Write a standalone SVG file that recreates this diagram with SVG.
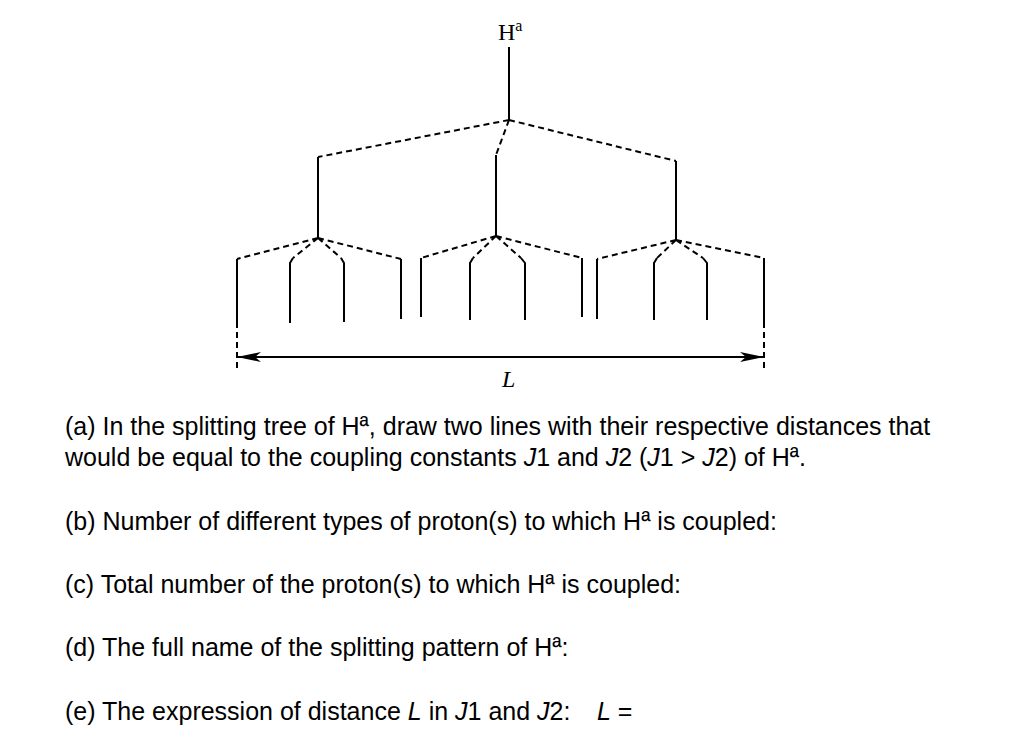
<svg xmlns="http://www.w3.org/2000/svg" width="1024" height="756" viewBox="0 0 1024 756">
<style>
.s{stroke:#000;stroke-width:2;fill:none}
.d{stroke:#000;stroke-width:2;fill:none;stroke-dasharray:6,4}
.t{font-family:"Liberation Sans",Arial,sans-serif;font-size:25px;fill:#000}
.r{font-family:"Liberation Serif","Times New Roman",serif;font-size:24px;fill:#000}
</style>
<defs>
<marker id="ab" viewBox="0 0 24 10" refX="24" refY="5" markerWidth="24" markerHeight="10" orient="auto-start-reverse" markerUnits="userSpaceOnUse"><path d="M0,0L24,5L0,10L6,5z" fill="#000"/></marker></defs>
<g id="root"><text class="r" x="498" y="40">H<tspan font-size="16" dy="-9">a</tspan></text><path class="s" d="M509,47V120"/></g>
<g id="connectors">
<path class="d" d="M509,120L318,157M509,120L496,155M509,120L676,161"/>
<path class="s" d="M318,157V238M496,155V236M676,161V240"/>
<path class="d" d="M318,238L237,259M318,238L293,258M318,238L341,258M318,238L401,259"/>
<path class="s" d="M237,259V322M293,258L290,263V323M341,258L344,263V322M401,259V319"/>
<path class="d" d="M496,236L421,258M496,236L473,258M496,236L521,258M496,236L582,258"/>
<path class="s" d="M421,258V317M473,258L470,263V320M521,258L525,263V320M582,258V317"/>
<path class="d" d="M676,240L597,259M676,240L657,258M676,240L703,258M676,240L764,258"/>
<path class="s" d="M597,259V319M657,258L654,263V320M703,258L707,263V320M764,258V322"/>
<path class="d" d="M237,322V370M764,322V370"/>
<path class="s" d="M237,357H764" marker-start="url(#ab)" marker-end="url(#ab)"/>
</g>
<text class="r" x="502" y="387" font-style="italic">L</text>
<g class="t">
<text x="65" y="435">(a) In the splitting tree of Hª, draw two lines with their respective distances that</text>
<text x="65" y="466">would be equal to the coupling constants <tspan font-style="italic">J</tspan>1 and <tspan font-style="italic">J</tspan>2 (<tspan font-style="italic">J</tspan>1 &gt; <tspan font-style="italic">J</tspan>2) of Hª.</text>
<text x="65" y="530">(b) Number of different types of proton(s) to which Hª is coupled:</text>
<text x="65" y="593">(c) Total number of the proton(s) to which Hª is coupled:</text>
<text x="65" y="656">(d) The full name of the splitting pattern of Hª:</text>
<text x="65" y="720">(e) The expression of distance <tspan font-style="italic">L</tspan> in <tspan font-style="italic">J</tspan>1 and <tspan font-style="italic">J</tspan>2:<tspan x="597" font-style="italic">L</tspan> =</text>
</g>
</svg>
